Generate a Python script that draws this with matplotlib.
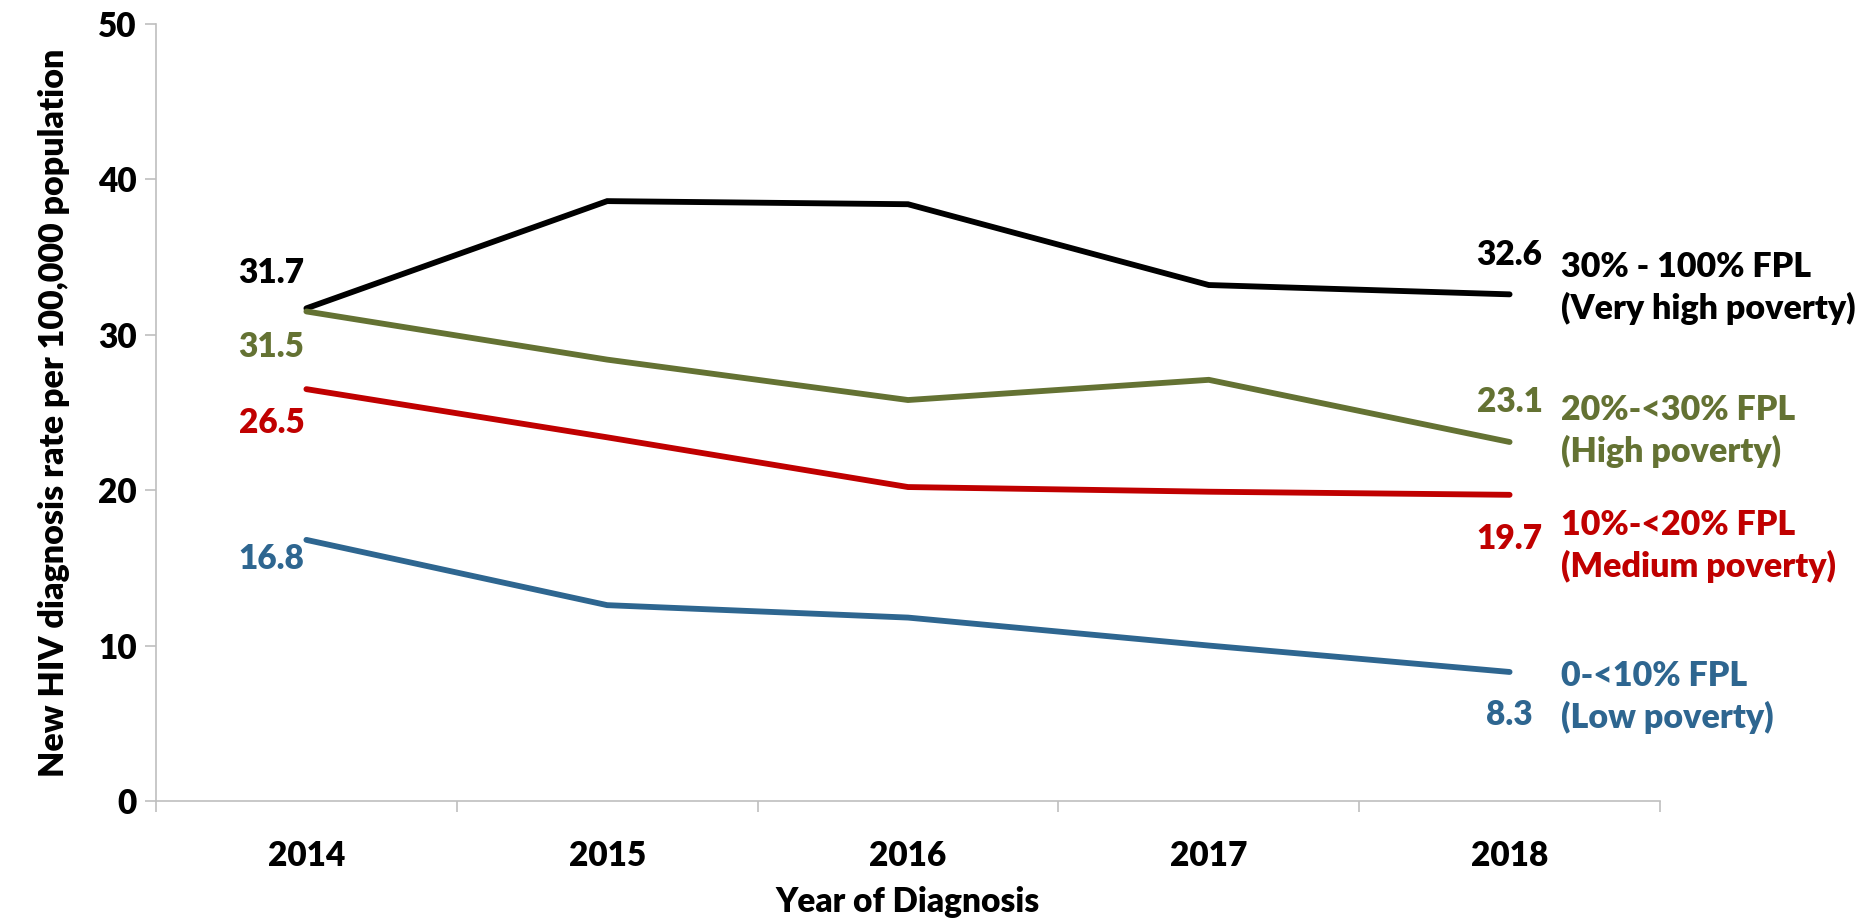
import matplotlib

matplotlib.use("Agg")
import matplotlib.pyplot as plt  # noqa: E402
from matplotlib.ticker import FixedLocator  # noqa: E402

plt.rcParams["font.family"] = ["Lato", "DejaVu Sans"]
plt.rcParams["font.weight"] = "heavy"

YEARS = ["2014", "2015", "2016", "2017", "2018"]

VERY_HIGH = [31.7, 38.6, 38.4, 33.2, 32.6]
HIGH = [31.5, 28.4, 25.8, 27.1, 23.1]
MEDIUM = [26.5, 23.4, 20.2, 19.9, 19.7]
LOW = [16.8, 12.6, 11.8, 10.0, 8.3]

SERIES_LABELS = [
    "30% - 100% FPL\n(Very high poverty)",
    "20%-<30% FPL\n(High poverty)",
    "10%-<20% FPL\n(Medium poverty)",
    "0-<10% FPL\n(Low poverty)",
]

COLORS = ["#000000", "#647233", "#C00000", "#2E6690"]
# label offsets in pixels: (first value dy, last value dy, series label dy)
OFFSETS = [(35, 39, 6), (-36, 40, 11), (-34, -44, -51), (-19, -43, -25)]

PX = 0.72  # points per pixel at dpi 100
W = "heavy"

fig = plt.figure(figsize=(18.66, 9.18), dpi=100)
ax = fig.add_axes([0.0836, 0.1275, 0.806, 0.8464])

x = list(range(len(YEARS)))
for vals, label, color, (d0, d1, dl) in zip(
        [VERY_HIGH, HIGH, MEDIUM, LOW], SERIES_LABELS, COLORS, OFFSETS):
    ax.plot(x, vals, color=color, lw=4.2, solid_capstyle="round",
            solid_joinstyle="miter", clip_on=False)
    ax.annotate(f"{vals[0]:.1f}", (x[0], vals[0]),
                xytext=(-2 * PX, d0 * PX), textcoords="offset points",
                ha="right", va="center", color=color, fontsize=24,
                fontweight=W)
    ax.annotate(f"{vals[-1]:.1f}", (x[-1], vals[-1]),
                xytext=(0, d1 * PX), textcoords="offset points",
                ha="center", va="center", color=color, fontsize=24,
                fontweight=W)
    ax.annotate(label, (x[-1], vals[-1]),
                xytext=(51 * PX, dl * PX), textcoords="offset points",
                ha="left", va="center", color=color, fontsize=24.5,
                fontweight=W, linespacing=1.32, annotation_clip=False)

ax.set_xlim(-0.5, len(YEARS) - 0.5)
ax.set_ylim(0, 50)
ax.set_yticks(range(0, 51, 10))
ax.set_xticks(x)
ax.set_xticklabels(YEARS)
ax.xaxis.set_minor_locator(FixedLocator([i - 0.5 for i in range(len(YEARS) + 1)]))

for side in ("top", "right"):
    ax.spines[side].set_visible(False)
for side in ("left", "bottom"):
    ax.spines[side].set_color("#BFBFBF")
    ax.spines[side].set_linewidth(1.2)

ax.tick_params(axis="y", direction="out", length=8, width=1.2,
               color="#BFBFBF", labelsize=24, pad=6)
ax.tick_params(axis="x", which="major", length=0, labelsize=24, pad=28)
ax.tick_params(axis="x", which="minor", direction="out", length=8,
               width=1.2, color="#BFBFBF")
for lab in ax.get_xticklabels() + ax.get_yticklabels():
    lab.set_fontweight(W)

ax.set_ylabel("New HIV diagnosis rate per 100,000 population",
              fontsize=24.5, fontweight=W, labelpad=20)
ax.set_xlabel("Year of Diagnosis", fontsize=24, fontweight=W,
              labelpad=10)

fig.savefig("out.png", dpi=100)
